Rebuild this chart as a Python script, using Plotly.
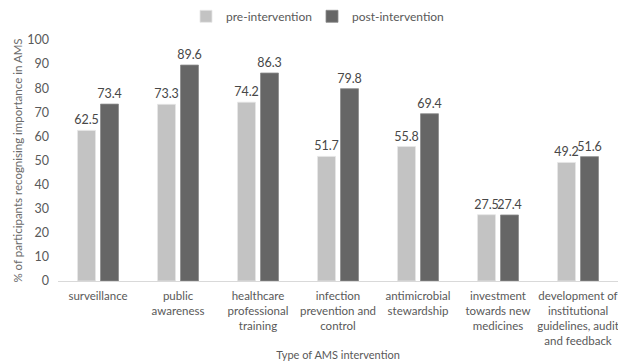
import plotly.graph_objects as go

categories = ["surveillance", "public<br>awareness", "healthcare<br>professional<br>training",
              "infection<br>prevention and<br>control", "antimicrobial<br>stewardship",
              "investment<br>towards new<br>medicines",
              "development of<br>institutional<br>guidelines, audit<br>and feedback"]
pre_values = [62.5, 73.3, 74.2, 51.7, 55.8, 27.5, 49.2]
post_values = [73.4, 89.6, 86.3, 79.8, 69.4, 27.4, 51.6]
y_ticks = [0, 10, 20, 30, 40, 50, 60, 70, 80, 90, 100]

FONT = "Lato"
fig = go.Figure()
fig.add_trace(go.Bar(name="pre-intervention", x=categories, y=pre_values,
                     marker=dict(color="#c3c3c3", line=dict(color="#e6e6e6", width=0.8)),
                     text=[f"{v:.1f}" for v in pre_values], textposition="outside",
                     constraintext="none", legend="legend",
                     textfont=dict(color="#474747", size=12.5, family=FONT), cliponaxis=False))
fig.add_trace(go.Bar(name="post-intervention", x=categories, y=post_values,
                     marker=dict(color="#666666", line=dict(color="#8a8a8a", width=0.8)),
                     text=[f"{v:.1f}" for v in post_values], textposition="outside",
                     constraintext="none", legend="legend2",
                     textfont=dict(color="#474747", size=12.5, family=FONT), cliponaxis=False))

leg_common = dict(orientation="h", yanchor="top", yref="container", xref="container",
                  xanchor="left", font=dict(size=12, color="#595959"), itemwidth=30,
                  bgcolor="rgba(0,0,0,0)")
fig.update_layout(
    width=618, height=361,
    margin=dict(l=58, r=0, t=40, b=80),
    paper_bgcolor="white", plot_bgcolor="white",
    barmode="group", bargap=0.425, bargroupgap=0.22,
    font=dict(family=FONT, color="#595959", size=11.5),
    showlegend=True,
    legend2=dict(x=312 / 618, y=0.995, **leg_common),
    legend=dict(x=186 / 618, y=0.995, **leg_common),
)
fig.update_yaxes(range=[0, 100], tickvals=y_ticks, showgrid=False, zeroline=False,
                 showline=False, ticks="", tickfont=dict(size=12.5, color="#595959"),
                 ticklabelstandoff=8,
                 title=dict(text="% of participants recognising importance in AMS",
                            font=dict(size=11.5, color="#6a6a6a"), standoff=2))
fig.update_xaxes(showline=True, linecolor="#d9d9d9", linewidth=1.2, ticks="",
                 tickfont=dict(size=11.5, color="#595959"), ticklabelstandoff=4,
                 title=dict(text="Type of AMS intervention",
                            font=dict(size=11, color="#595959"), standoff=6))

fig.write_html("out.html")
